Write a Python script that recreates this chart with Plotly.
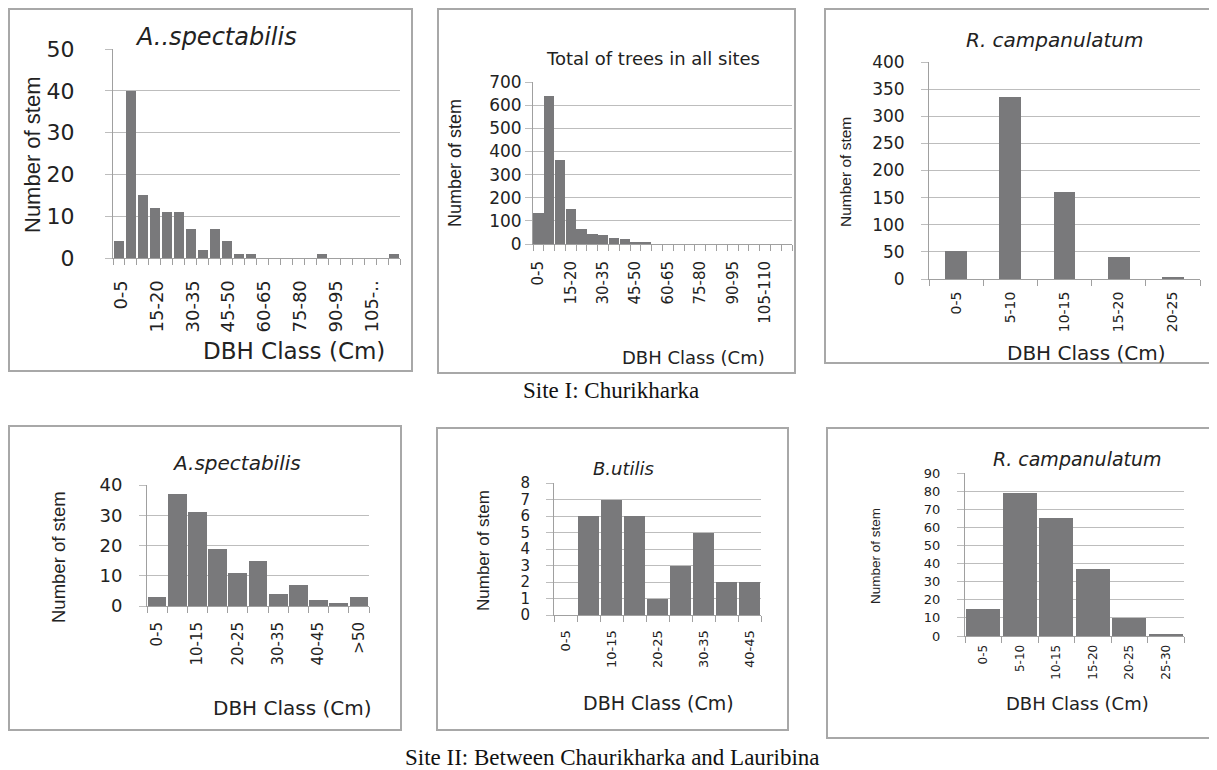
import plotly.graph_objects as go

W, H = 1217, 770
OFF = 8  # page margin of the browser body
FW, FH = W - OFF, H - OFF

# ---------------- data ----------------
p1_classes = ["0-5", "5-10", "10-15", "15-20", "20-25", "25-30", "30-35", "35-40", "40-45", "45-50",
              "50-55", "55-60", "60-65", "65-70", "70-75", "75-80", "80-85", "85-90", "90-95", "95-100",
              "100-105", "105-110", "110-115", "115-120"]
p1_values = [4, 40, 15, 12, 11, 11, 7, 2, 7, 4, 1, 1, 0, 0, 0, 0, 0, 1, 0, 0, 0, 0, 0, 1]
p1_ticklabels = ["0-5", "15-20", "30-35", "45-50", "60-65", "75-80", "90-95", "105-.."]

p2_classes = p1_classes
p2_values = [135, 640, 362, 152, 63, 43, 37, 26, 23, 9, 9, 0, 0, 0, 0, 0, 0, 0, 0, 0, 0, 0, 0, 0]
p2_ticklabels = ["0-5", "15-20", "30-35", "45-50", "60-65", "75-80", "90-95", "105-110"]

p3_classes = ["0-5", "5-10", "10-15", "15-20", "20-25"]
p3_values = [52, 335, 160, 40, 4]

p4_classes = ["0-5", "5-10", "10-15", "15-20", "20-25", "25-30", "30-35", "35-40", "40-45", "45-50", ">50"]
p4_values = [3, 37, 31, 19, 11, 15, 4, 7, 2, 1, 3]
p4_ticklabels = ["0-5", "10-15", "20-25", "30-35", "40-45", ">50"]

p5_classes = ["0-5", "5-10", "10-15", "15-20", "20-25", "25-30", "30-35", "35-40", "40-45"]
p5_values = [0, 6, 7, 6, 1, 3, 5, 2, 2]
p5_ticklabels = ["0-5", "10-15", "20-25", "30-35", "40-45"]

p6_classes = ["0-5", "5-10", "10-15", "15-20", "20-25", "25-30"]
p6_values = [15, 79, 65, 37, 10, 1]

titles = ["A..spectabilis", "Total of trees in all sites", "R. campanulatum",
          "A.spectabilis", "B.utilis", "R. campanulatum"]
title_italic = [True, False, True, True, True, True]
y_title = "Number of stem"
x_title = "DBH Class (Cm)"
captions = ["Site I: Churikharka", "Site II: Between Chaurikharka and Lauribina"]

# ---------------- styling / layout ----------------
BAR = "#79797b"
GRID = "#bdbdbd"
AXIS = "#a0a0a0"
BOX = "#a8a8a8"
TXT = "#222222"
SANS = "DejaVu Sans, Liberation Sans, Arial, sans-serif"
NARROW = "Liberation Sans Narrow, Arial Narrow, Liberation Sans, Arial, sans-serif"
SERIF = "Liberation Serif, Times New Roman, serif"


def px_x(v):
    return (v - OFF) / FW


def px_y(v):
    return 1 - (v - OFF) / FH


panels = [
    dict(v=p1_values, c=p1_classes, tl=p1_ticklabels, k=3, ymax=50, dt=10,
         pa=(113, 400, 49, 258), gap=0.16, yts=22, xts=18, box=(9, 412, 9, 371),
         yt=(32, 155, 22), xt=(294, 351, 23), tt=(216, 37, 24), shift=2, ysd=26, xsd=14),
    dict(v=p2_values, c=p2_classes, tl=p2_ticklabels, k=3, ymax=700, dt=100,
         pa=(533, 792, 82, 244), gap=0.04, yts=17, xts=15, box=(438, 795, 9, 373),
         yt=(455, 163, 18), xt=(693, 357, 18), tt=(653, 59, 18), shift=0, ysd=0, xsd=10),
    dict(v=p3_values, c=p3_classes, tl=p3_classes, k=1, ymax=400, dt=50,
         pa=(929, 1200, 62, 279), gap=0.6, yts=17, xts=14, box=(825, 1215, 9, 363),
         yt=(845, 172, 15.5), xt=(1086, 353, 20), tt=(1054, 40, 20), shift=0, ysd=13, xsd=6),
    dict(v=p4_values, c=p4_classes, tl=p4_ticklabels, k=2, ymax=40, dt=10,
         pa=(147, 369, 485, 606), gap=0.07, yts=18, xts=15, box=(9, 401, 426, 730),
         yt=(58, 557, 18.5), xt=(292, 708, 20), tt=(236, 463, 20), shift=0, ysd=13, xsd=9),
    dict(v=p5_values, c=p5_classes, tl=p5_ticklabels, k=2, ymax=8, dt=1,
         pa=(554, 761, 483, 615), gap=0.1, yts=15, xts=13, box=(437, 788, 428, 730),
         yt=(483, 551, 17), xt=(658, 703, 19), tt=(623, 468, 18), shift=0, ysd=13, xsd=9),
    dict(v=p6_values, c=p6_classes, tl=p6_classes, k=1, ymax=90, dt=10,
         pa=(965, 1184, 473, 636), gap=0.07, yts=13, xts=12, box=(827, 1213, 428, 738),
         yt=(875, 556, 13.5), xt=(1077, 703, 18), tt=(1077, 459, 19), shift=0, ysd=14, xsd=3),
]

fig = go.Figure()
annotations = []
shapes = []

for i, p in enumerate(panels, start=1):
    xa = "x" if i == 1 else f"x{i}"
    ya = "y" if i == 1 else f"y{i}"
    idx = list(range(len(p["c"])))
    fig.add_trace(go.Bar(x=idx, y=p["v"], xaxis=xa, yaxis=ya, marker_color=BAR,
                         marker_line_width=0, width=1 - p["gap"], showlegend=False,
                         hovertext=p["c"]))
    x0, x1, yt, yb = p["pa"]
    tickvals = idx[::p["k"]]
    xkw = dict(domain=[px_x(x0), px_x(x1)], anchor=ya, range=[-0.5, len(idx) - 0.5],
               tickmode="array", tickvals=tickvals, ticktext=p["tl"], tickangle=-90,
               ticks="", showgrid=False, zeroline=False, showline=True, linecolor=AXIS,
               linewidth=1, tickfont=dict(family=SANS, size=p["xts"], color=TXT),
               minor=dict(ticks="outside", ticklen=6, tickcolor=AXIS, tick0=0.5, dtick=1,
                          showgrid=False),
               ticklabelstandoff=p["xsd"], automargin=False, fixedrange=True)
    if p["shift"]:
        xkw["ticklabelshift"] = p["shift"]
    ykw = dict(domain=[px_y(yb), px_y(yt)], anchor=xa, range=[0, p["ymax"]], dtick=p["dt"],
               tick0=0, showgrid=True, gridcolor=GRID, gridwidth=1, zeroline=False,
               showline=True, linecolor=AXIS, linewidth=1, ticks="outside", ticklen=7,
               tickcolor=GRID, tickfont=dict(family=SANS, size=p["yts"], color=TXT),
               ticklabelstandoff=p["ysd"], automargin=False, fixedrange=True)
    fig.update_layout(**{("xaxis" if i == 1 else f"xaxis{i}"): xkw,
                         ("yaxis" if i == 1 else f"yaxis{i}"): ykw})

    bx0, bx1, by0, by1 = p["box"]
    shapes.append(dict(type="rect", xref="paper", yref="paper",
                       x0=px_x(bx0), x1=px_x(bx1), y0=px_y(by1), y1=px_y(by0),
                       line=dict(color=BOX, width=2), fillcolor="rgba(0,0,0,0)", layer="below"))
    tx, ty, ts = p["yt"]
    annotations.append(dict(text=y_title, x=px_x(tx), y=px_y(ty), xref="paper", yref="paper",
                            textangle=-90, showarrow=False, xanchor="center", yanchor="middle",
                            font=dict(family=NARROW, size=ts, color=TXT)))
    tx, ty, ts = p["xt"]
    annotations.append(dict(text=x_title, x=px_x(tx), y=px_y(ty), xref="paper", yref="paper",
                            showarrow=False, xanchor="center", yanchor="middle",
                            font=dict(family=SANS, size=ts, color=TXT)))
    tx, ty, ts = p["tt"]
    t = titles[i - 1]
    annotations.append(dict(text=f"<i>{t}</i>" if title_italic[i - 1] else t,
                            x=px_x(tx), y=px_y(ty), xref="paper", yref="paper",
                            showarrow=False, xanchor="center", yanchor="middle",
                            font=dict(family=SANS, size=ts, color=TXT)))

annotations.append(dict(text=captions[0], x=px_x(611), y=px_y(391), xref="paper", yref="paper",
                        showarrow=False, xanchor="center", yanchor="middle",
                        font=dict(family=SERIF, size=23, color="#111111")))
annotations.append(dict(text=captions[1], x=px_x(612), y=px_y(757), xref="paper", yref="paper",
                        showarrow=False, xanchor="center", yanchor="middle",
                        font=dict(family=SERIF, size=23, color="#111111")))

fig.update_layout(width=FW, height=FH, margin=dict(l=0, r=0, t=0, b=0),
                  paper_bgcolor="white", plot_bgcolor="white",
                  annotations=annotations, shapes=shapes, bargap=0, showlegend=False)

fig.write_html("out.html", config={"displayModeBar": False})
